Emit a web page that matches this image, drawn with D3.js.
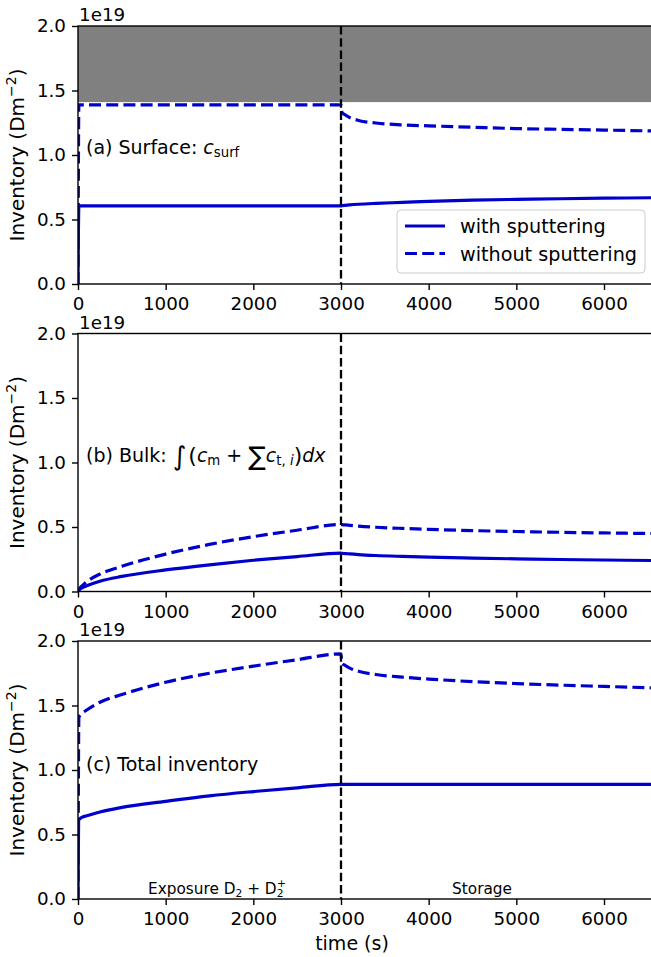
<!DOCTYPE html>
<html>
<head>
<meta charset="utf-8">
<script src="https://cdn.jsdelivr.net/npm/d3@7/dist/d3.min.js"></script>
<style>
  html, body { margin: 0; padding: 0; background: #fff; }
  svg { display: block; font-family: "DejaVu Sans", sans-serif; }
</style>
</head>
<body>
<svg id="chart" width="651" height="957"></svg>
<script>
// ---- data (values in units of 1e19 D m^-2) ----
const times = [0, 10, 50, 100, 250, 500, 1000, 1500, 2000, 2500, 3000, 3010, 3050, 3100, 3200, 3400, 3700, 4000, 4500, 5000, 5500, 6000, 6600];

const surfWith    = [0, 0.605, 0.605, 0.605, 0.605, 0.605, 0.605, 0.605, 0.605, 0.605, 0.605, 0.607, 0.610, 0.613, 0.618, 0.625, 0.633, 0.641, 0.650, 0.656, 0.661, 0.665, 0.669];
const surfWithout = [0, 1.388, 1.388, 1.388, 1.388, 1.388, 1.388, 1.388, 1.388, 1.388, 1.388, 1.330, 1.310, 1.290, 1.268, 1.248, 1.233, 1.226, 1.215, 1.205, 1.199, 1.193, 1.186];

const bulkWith    = [0, 0.010, 0.030, 0.045, 0.080, 0.117, 0.167, 0.207, 0.242, 0.271, 0.297, 0.296, 0.294, 0.291, 0.286, 0.279, 0.272, 0.266, 0.259, 0.253, 0.248, 0.244, 0.240];
const bulkWithout = [0, 0.015, 0.045, 0.075, 0.135, 0.195, 0.290, 0.365, 0.425, 0.475, 0.520, 0.519, 0.516, 0.513, 0.507, 0.498, 0.489, 0.482, 0.472, 0.465, 0.459, 0.454, 0.449];

const totalWith    = [0, 0.615, 0.635, 0.645, 0.675, 0.710, 0.757, 0.800, 0.833, 0.862, 0.889, 0.889, 0.889, 0.889, 0.889, 0.889, 0.889, 0.889, 0.889, 0.889, 0.889, 0.889, 0.889];
const totalWithout = [0, 1.410, 1.440, 1.465, 1.525, 1.585, 1.680, 1.750, 1.805, 1.855, 1.900, 1.830, 1.810, 1.790, 1.765, 1.740, 1.720, 1.705, 1.685, 1.670, 1.658, 1.648, 1.636];

const xTicks = [0, 1000, 2000, 3000, 4000, 5000, 6000];
const yTicks = [0.0, 0.5, 1.0, 1.5, 2.0];
const switchTime = 3000;
const saturationLevel = 1.41;
const seriesNames = ["with sputtering", "without sputtering"];

// ---- layout ----
const W = 651, H = 957;
const left = 78, right = 656.6;
const panelTops = [26, 333.5, 641];
const ph = 258;
const blue = "#0000cd";
const FS_TICK = 18.3, FS_LAB = 19, FS_LEG = 19.2, FS_Y = 20;

const svg = d3.select("#chart");
svg.append("rect").attr("width", W).attr("height", H).attr("fill", "#fff");

const x = d3.scaleLinear().domain([0, 6600]).range([left, right]);

const panels = [
  { withS: surfWith, withoutS: surfWithout, band: true },
  { withS: bulkWith, withoutS: bulkWithout },
  { withS: totalWith, withoutS: totalWithout }
];

panels.forEach((p, i) => {
  const top = panelTops[i], bottom = top + ph;
  const y = d3.scaleLinear().domain([0, 2]).range([bottom, top]);
  const g = svg.append("g");
  const clipId = "clip" + i;
  svg.append("clipPath").attr("id", clipId).append("rect")
    .attr("x", left).attr("y", top).attr("width", right - left).attr("height", ph);
  const plot = g.append("g").attr("clip-path", `url(#${clipId})`);

  if (p.band) {
    plot.append("rect")
      .attr("x", left).attr("width", right - left)
      .attr("y", y(2)).attr("height", y(saturationLevel) - y(2))
      .attr("fill", "#808080");
  }

  const line = d3.line().x((d, k) => x(times[k])).y(d => y(d)).curve(d3.curveMonotoneX);

  plot.append("path").datum(p.withS).attr("d", line)
    .attr("fill", "none").attr("stroke", blue).attr("stroke-width", 3.2);
  plot.append("path").datum(p.withoutS).attr("d", line)
    .attr("fill", "none").attr("stroke", blue).attr("stroke-width", 3.2)
    .attr("stroke-dasharray", "12,5.2");

  // vertical switch line
  plot.append("line")
    .attr("x1", x(switchTime)).attr("x2", x(switchTime))
    .attr("y1", top).attr("y2", bottom)
    .attr("stroke", "#000").attr("stroke-width", 2.3)
    .attr("stroke-dasharray", "8.5,3.7");

  // axes
  const yAxis = d3.axisLeft(y).tickValues(yTicks).tickFormat(d3.format(".1f")).tickSize(6).tickPadding(6);
  const ya = g.append("g").attr("transform", `translate(${left},0)`).call(yAxis);
  const xAxis = d3.axisBottom(x).tickValues(xTicks).tickFormat(d3.format("d")).tickSize(6).tickPadding(6);
  const xa = g.append("g").attr("transform", `translate(0,${bottom})`).call(xAxis);
  [ya, xa].forEach(a => {
    a.select(".domain").remove();
    a.selectAll(".tick line").attr("stroke", "#000").attr("stroke-width", 1.4);
    a.selectAll(".tick text").attr("font-size", FS_TICK).attr("font-family", "DejaVu Sans").attr("fill", "#000");
  });
  xa.selectAll(".tick text").attr("dy", null).attr("y", 26);

  // spines
  g.append("rect").attr("x", left).attr("y", top).attr("width", right - left).attr("height", ph)
    .attr("fill", "none").attr("stroke", "#000").attr("stroke-width", 1.4);

  // offset text
  g.append("text").attr("x", left + 1).attr("y", top - 5).attr("font-size", FS_TICK).text("1e19");

  // y label
  const yl = g.append("text")
    .attr("transform", `translate(24,${(top + bottom) / 2}) rotate(-90)`)
    .attr("text-anchor", "middle").attr("font-size", FS_Y);
  yl.append("tspan").text("Inventory (Dm");
  yl.append("tspan").attr("font-size", 14).attr("dy", -8).text("\u22122");
  yl.append("tspan").attr("dy", 8).text(")");
});

// panel labels
const la = svg.append("text").attr("x", 86).attr("y", 154).attr("font-size", FS_LAB);
la.append("tspan").text("(a) Surface: ");
la.append("tspan").attr("font-style", "italic").text("c");
la.append("tspan").attr("font-size", 13.3).attr("dy", 3).text("surf");

const lb = svg.append("text").attr("x", 86).attr("y", 462).attr("font-size", FS_LAB);
lb.append("tspan").text("(b) Bulk: ");
lb.append("tspan").attr("font-size", 26).attr("dy", 3).text("\u222b");
lb.append("tspan").attr("font-size", 22).attr("dx", 2).attr("dy", -2).text("(");
lb.append("tspan").attr("font-style", "italic").attr("dy", -1).text("c");
lb.append("tspan").attr("font-size", 13.3).attr("dy", 3).text("m");
lb.append("tspan").attr("dy", -3).text(" + ");
lb.append("tspan").attr("font-size", 26).attr("dy", 3).text("\u2211");
lb.append("tspan").attr("font-style", "italic").attr("dy", -3).text("c");
lb.append("tspan").attr("font-size", 13.3).attr("dy", 3).text("t, ");
lb.append("tspan").attr("font-size", 13.3).attr("font-style", "italic").text("i");
lb.append("tspan").attr("font-size", 22).attr("dy", -2).text(")");
lb.append("tspan").attr("font-style", "italic").attr("dy", -1).text("dx");

svg.append("text").attr("x", 86).attr("y", 771).attr("font-size", FS_LAB).text("(c) Total inventory");

// phase annotations
const ex = svg.append("text").attr("x", 217).attr("y", 894).attr("font-size", 15.3).attr("text-anchor", "middle");
ex.append("tspan").text("Exposure D");
ex.append("tspan").attr("font-size", 10.7).attr("dy", 3).text("2");
ex.append("tspan").attr("dy", -3).text(" + D");
ex.append("tspan").attr("font-size", 10.7).attr("dy", 3).text("2");
ex.append("tspan").attr("font-size", 10.7).attr("dx", -6.5).attr("dy", -10).text("+");
svg.append("text").attr("x", 482).attr("y", 894).attr("font-size", 15.3).attr("text-anchor", "middle").text("Storage");

// x label
svg.append("text").attr("x", 352).attr("y", 950).attr("font-size", FS_LAB).attr("text-anchor", "middle").text("time (s)");

// legend
const lg = svg.append("g");
lg.append("rect").attr("x", 397).attr("y", 210).attr("width", 248).attr("height", 63)
  .attr("rx", 4).attr("fill", "#fff").attr("fill-opacity", 0.8)
  .attr("stroke", "#cccccc").attr("stroke-width", 1);
seriesNames.forEach((name, k) => {
  const yy = 226 + k * 27.5;
  lg.append("line").attr("x1", 405).attr("x2", 445).attr("y1", yy).attr("y2", yy)
    .attr("stroke", blue).attr("stroke-width", 3.2)
    .attr("stroke-dasharray", k === 1 ? "12,5.2" : null);
  lg.append("text").attr("x", 460).attr("y", yy + 7).attr("font-size", FS_LEG).text(name);
});
</script>
</body>
</html>
